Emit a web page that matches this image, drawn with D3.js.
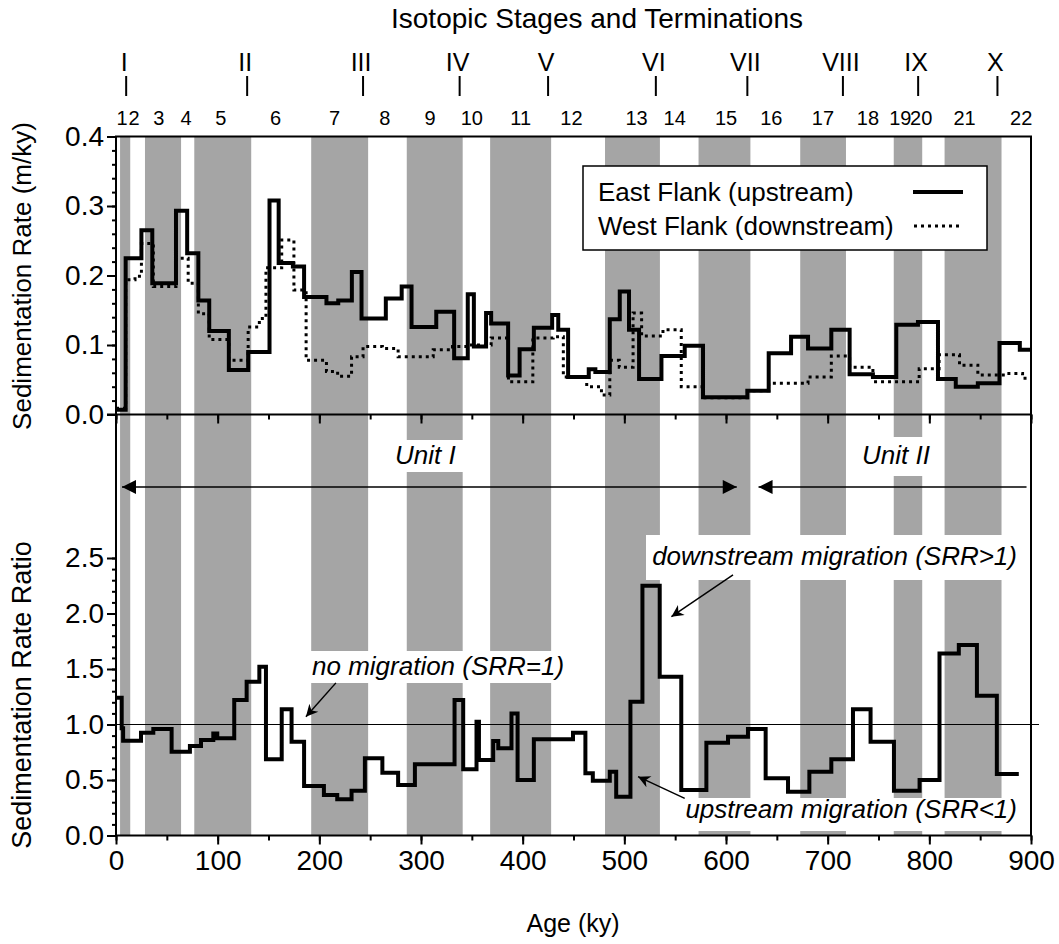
<!DOCTYPE html>
<html>
<head>
<meta charset="utf-8" />
<title>Sedimentation Rate</title>
<script src="https://d3js.org/d3.v7.min.js"></script>
<style>
  body { margin: 0px; background: white; }
  text { font-family: "Liberation Sans", Arial, Helvetica, sans-serif; fill: black; }
  .it { font-style: italic; }
</style>
</head>
<body>
<svg id="chart"></svg>
<script>

var width = 1059;
var height = 944;

// shaded (odd) isotopic stages, ky
var bandStart = [4, 28.5, 77, 192, 286, 368, 481, 573, 673, 765, 815];
var bandEnd   = [14, 64, 133, 248, 341, 428, 535, 624, 718, 793, 871];

// stage numbers and where they sit (ky)
var stageNames = ["1","2","3","4","5","6","7","8","9","10","11","12","13","14","15","16","17","18","19","20","21","22"];
var stageAges  = [5.9, 17.7, 42, 69, 103, 157, 215, 264.5, 309, 350, 398, 448, 512, 549.5, 600, 644.6, 695.4, 739.6, 771.5, 792, 834.6, 890.4];

// terminations
var termNames = ["I","II","III","IV","V","VI","VII","VIII","IX","X"];
var termAges  = [10, 129, 243, 338, 425, 531, 621, 715, 789, 867];

// East Flank (upstream) - step starts (ky) and rates (m/ky)
var eastAge = [0, 9.5, 25, 35.7, 59, 70, 81, 91.7, 111, 130, 151, 160, 174, 185, 207, 218.6, 232, 241.5, 265.4, 281, 290.7,
  315, 332.6, 346, 352, 364, 369, 385.7, 397, 411, 429, 435, 444.7, 465, 471.5, 485.7, 495.5, 504.6, 514.5, 536.5, 559.4,
  577.4, 621, 642, 664, 680.7, 703.6, 721.6, 744.5, 767.5, 788.8, 808.5, 826, 847.7, 869, 889, 900];
var eastRate = [0.007, 0.225, 0.265, 0.189, 0.293, 0.232, 0.164, 0.12, 0.064, 0.09, 0.308, 0.218, 0.213, 0.169, 0.16, 0.164, 0.205, 0.138, 0.167, 0.184, 0.126,
  0.148, 0.081, 0.173, 0.098, 0.146, 0.131, 0.056, 0.094, 0.125, 0.143, 0.122, 0.054, 0.065, 0.061, 0.137, 0.177, 0.122, 0.051, 0.084, 0.099,
  0.025, 0.034, 0.088, 0.112, 0.095, 0.122, 0.058, 0.054, 0.129, 0.133, 0.051, 0.040, 0.045, 0.103, 0.093, 0.093];

// West Flank (downstream)
var westAge = [0, 9.5, 18.7, 25, 36.7, 59, 71, 81, 91.7, 111, 130, 141, 147.5, 163, 175, 187, 207, 218, 231.7, 243, 262, 277.5,
  294, 312, 331, 348, 369, 386, 410, 430, 440, 463, 477.5, 485.7, 495, 508.6, 517, 538, 556, 577.4, 621, 642, 680.7, 703.6,
  721.6, 744.5, 790, 809.6, 829.7, 847.7, 875.6, 891.7, 900];
var westRate = [0.009, 0.194, 0.199, 0.246, 0.184, 0.225, 0.189, 0.145, 0.108, 0.078, 0.126, 0.138, 0.211, 0.251, 0.179, 0.078, 0.062, 0.055, 0.083, 0.098, 0.095, 0.083,
  0.083, 0.093, 0.098, 0.100, 0.110, 0.047, 0.110, 0.112, 0.054, 0.040, 0.028, 0.078, 0.068, 0.146, 0.113, 0.122, 0.040, 0.024, 0.034, 0.045, 0.054, 0.084,
  0.068, 0.047, 0.066, 0.086, 0.071, 0.057, 0.059, 0.052, 0.052];

// Sedimentation rate ratio (west / east)
var srrAge = [0, 5.6, 7, 24.6, 36.7, 54.7, 72.7, 83.6, 95.7, 99.6, 116.3, 128.5, 141, 147.5, 163, 172.7, 185, 204.5, 217.6, 231.7,
  244.8, 262, 277.5, 294, 333, 341.5, 354.6, 357, 371, 376, 389, 395, 411, 449.5, 461.7, 469, 485.7, 492, 506, 517.8, 534.8,
  556, 580.7, 602, 621.6, 639, 661, 682, 703.6, 724.9, 742.2, 765.2, 790.4, 810, 829, 846.8, 866.4, 888];
var srrValue = [1.24, 0.966, 0.854, 0.926, 0.959, 0.755, 0.806, 0.86, 0.92, 0.876, 1.22, 1.386, 1.52, 0.686, 1.137, 0.845, 0.446, 0.365, 0.326, 0.404,
  0.695, 0.566, 0.455, 0.641, 1.22, 0.596, 1.025, 0.68, 0.851, 0.785, 1.10, 0.50, 0.867, 0.926, 0.56, 0.494, 0.575, 0.35, 1.205, 2.25, 1.43,
  0.41, 0.836, 0.89, 0.959, 0.515, 0.395, 0.575, 0.686, 1.137, 0.845, 0.404, 0.50, 1.64, 1.716, 1.26, 0.554, 0.554];

var xTicks = [0, 100, 200, 300, 400, 500, 600, 700, 800, 900];
var topTicks = [0.0, 0.1, 0.2, 0.3, 0.4];
var botTicks = [0.0, 0.5, 1.0, 1.5, 2.0, 2.5];

var svg = d3.select("#chart").attr("width", width).attr("height", height);

var x = d3.scaleLinear().domain([0, 900]).range([116, 1031]);
var yTop = d3.scaleLinear().domain([0, 0.4]).range([414.5, 136.5]);
var yBot = d3.scaleLinear().domain([0, 2.5]).range([835.5, 558]);

var frameTop = 136.5, frameBottom = 835.5, mid = 414.5;
var grey = "#a5a5a5";
var tickFont = 28;

// bands
svg.append("g").selectAll("rect")
  .data(bandStart)
  .enter().append("rect")
  .attr("x", function(d) { return x(d); })
  .attr("width", function(d, i) { return x(bandEnd[i]) - x(d); })
  .attr("y", frameTop)
  .attr("height", frameBottom - frameTop)
  .attr("fill", grey);

// white boxes behind annotation text
var boxes = [
  [390, 440, 73, 32],    // Unit I
  [858, 437, 74, 39],    // Unit II
  [305, 651, 255, 32],   // no migration
  [646, 535, 384, 45],   // downstream
  [680, 798, 350, 33]    // upstream
];
svg.append("g").selectAll("rect")
  .data(boxes)
  .enter().append("rect")
  .attr("x", function(d) { return d[0]; })
  .attr("y", function(d) { return d[1]; })
  .attr("width", function(d) { return d[2]; })
  .attr("height", function(d) { return d[3]; })
  .attr("fill", "white");

// reference line SRR = 1
svg.append("line")
  .attr("x1", x(0)).attr("x2", 1039)
  .attr("y1", yBot(1)).attr("y2", yBot(1))
  .attr("stroke", "black").attr("stroke-width", 1.2);

// axes
function drawY(scale, major, minorStep, x0) {
  var g = svg.append("g").attr("transform", "translate(" + x0 + ",0)");
  var lo = scale.domain()[0], hi = scale.domain()[1];
  var minors = d3.range(lo, hi + minorStep / 2, minorStep);
  g.call(d3.axisLeft(scale).tickValues(minors).tickSize(4).tickFormat(""));
  g.select(".domain").remove();
  var g2 = svg.append("g").attr("transform", "translate(" + x0 + ",0)");
  g2.call(d3.axisLeft(scale).tickValues(major).tickSize(9).tickPadding(3)
    .tickFormat(d3.format(".1f")));
  g2.select(".domain").remove();
  g2.selectAll("text").attr("font-size", tickFont).attr("font-family", "Liberation Sans, Arial, sans-serif");
  svg.selectAll(".tick line").attr("stroke-width", 2);
}
drawY(yTop, topTicks, 0.02, x(0));
drawY(yBot, botTicks, 0.1, x(0));

function drawX(y0, labels) {
  var minor = d3.range(0, 901, 50);
  var g = svg.append("g").attr("transform", "translate(0," + y0 + ")");
  g.call(d3.axisBottom(x).tickValues(minor).tickSize(5).tickFormat(""));
  g.select(".domain").remove();
  var g2 = svg.append("g").attr("transform", "translate(0," + y0 + ")");
  g2.call(d3.axisBottom(x).tickValues(xTicks).tickSize(9).tickPadding(6)
    .tickFormat(labels ? d3.format("d") : ""));
  g2.select(".domain").remove();
  g2.selectAll("text").attr("font-size", tickFont).attr("font-family", "Liberation Sans, Arial, sans-serif");
  svg.selectAll(".tick line").attr("stroke-width", 2);
}
drawX(mid, false);
drawX(frameBottom, true);

// frame and middle axis line
svg.append("rect")
  .attr("x", x(0)).attr("y", frameTop)
  .attr("width", x(900) - x(0)).attr("height", frameBottom - frameTop)
  .attr("fill", "none").attr("stroke", "black").attr("stroke-width", 2);
svg.append("line")
  .attr("x1", 107).attr("x2", x(900))
  .attr("y1", mid).attr("y2", mid)
  .attr("stroke", "black").attr("stroke-width", 2);

// step lines
function stepPts(ages, vals) {
  return ages.map(function(a, i) { return [a, vals[i]]; });
}
var lineTop = d3.line()
  .x(function(d) { return x(d[0]); })
  .y(function(d) { return yTop(d[1]); })
  .curve(d3.curveStepAfter);
var lineBot = d3.line()
  .x(function(d) { return x(d[0]); })
  .y(function(d) { return yBot(d[1]); })
  .curve(d3.curveStepAfter);

svg.append("path")
  .attr("d", lineTop(stepPts(westAge, westRate)))
  .attr("fill", "none").attr("stroke", "black")
  .attr("stroke-width", 3).attr("stroke-dasharray", "3,4");
svg.append("path")
  .attr("d", lineTop(stepPts(eastAge, eastRate)))
  .attr("fill", "none").attr("stroke", "black")
  .attr("stroke-width", 4).attr("stroke-linejoin", "miter");
svg.append("path")
  .attr("d", lineBot(stepPts(srrAge, srrValue)))
  .attr("fill", "none").attr("stroke", "black")
  .attr("stroke-width", 4).attr("stroke-linejoin", "miter");

// legend
var leg = svg.append("g");
leg.append("rect")
  .attr("x", 583).attr("y", 166).attr("width", 404).attr("height", 84)
  .attr("fill", "white").attr("stroke", "black").attr("stroke-width", 1.5);
leg.append("text").attr("x", 598).attr("y", 201).attr("font-size", 26).text("East Flank (upstream)");
leg.append("text").attr("x", 598).attr("y", 235).attr("font-size", 26).text("West Flank (downstream)");
leg.append("line").attr("x1", 913).attr("x2", 963).attr("y1", 192).attr("y2", 192)
  .attr("stroke", "black").attr("stroke-width", 4);
leg.append("line").attr("x1", 914).attr("x2", 963).attr("y1", 226).attr("y2", 226)
  .attr("stroke", "black").attr("stroke-width", 3).attr("stroke-dasharray", "3,4");

// top labels
svg.append("text").attr("x", 597).attr("y", 28).attr("text-anchor", "middle")
  .attr("font-size", 28).text("Isotopic Stages and Terminations");

svg.append("g").selectAll("text")
  .data(stageNames)
  .enter().append("text")
  .attr("x", function(d, i) { return x(stageAges[i]); })
  .attr("y", 125)
  .attr("text-anchor", "middle")
  .attr("font-size", 20)
  .text(function(d) { return d; });

var term = svg.append("g").selectAll("g")
  .data(termNames)
  .enter().append("g");
term.append("text")
  .attr("x", function(d, i) { return x(termAges[i]) - 2; })
  .attr("y", 71)
  .attr("text-anchor", "middle")
  .attr("font-size", 25)
  .text(function(d) { return d; });
term.append("line")
  .attr("x1", function(d, i) { return x(termAges[i]); })
  .attr("x2", function(d, i) { return x(termAges[i]); })
  .attr("y1", 76).attr("y2", 96)
  .attr("stroke", "black").attr("stroke-width", 2);

// axis titles
svg.append("text").attr("x", 573).attr("y", 932).attr("text-anchor", "middle")
  .attr("font-size", 25).text("Age (ky)");
svg.append("text").attr("transform", "translate(31,276) rotate(-90)")
  .attr("text-anchor", "middle").attr("font-size", 26).text("Sedimentation Rate (m/ky)");
svg.append("text").attr("transform", "translate(31,695) rotate(-90)")
  .attr("text-anchor", "middle").attr("font-size", 27).text("Sedimentation Rate Ratio");

// arrows
var defs = svg.append("defs");
defs.append("marker")
  .attr("id", "head").attr("viewBox", "0 0 10 10")
  .attr("refX", 10).attr("refY", 5)
  .attr("markerWidth", 20).attr("markerHeight", 14)
  .attr("markerUnits", "userSpaceOnUse")
  .attr("orient", "auto-start-reverse")
  .append("path").attr("d", "M0,0 L10,5 L0,10 Z").attr("fill", "black");
defs.append("marker")
  .attr("id", "headS").attr("viewBox", "0 0 10 10")
  .attr("refX", 10).attr("refY", 5)
  .attr("markerWidth", 20).attr("markerHeight", 12)
  .attr("markerUnits", "userSpaceOnUse")
  .attr("orient", "auto")
  .append("path").attr("d", "M0,0 L10,5 L0,10 L3,5 Z").attr("fill", "black");

var unitY = yBot(3.14);
svg.append("line")
  .attr("x1", x(5.9)).attr("x2", x(610.6)).attr("y1", unitY).attr("y2", unitY)
  .attr("stroke", "black").attr("stroke-width", 1.5)
  .attr("marker-start", "url(#head)").attr("marker-end", "url(#head)");
svg.append("line")
  .attr("x1", x(895.6)).attr("x2", x(632)).attr("y1", unitY).attr("y2", unitY)
  .attr("stroke", "black").attr("stroke-width", 1.5)
  .attr("marker-end", "url(#head)");

var callouts = [
  [216.3, 1.375, 186.8, 1.07],
  [606.9, 2.347, 546.3, 1.971],
  [559.4, 0.335, 513.5, 0.53]
];
svg.append("g").selectAll("line")
  .data(callouts)
  .enter().append("line")
  .attr("x1", function(d) { return x(d[0]); })
  .attr("y1", function(d) { return yBot(d[1]); })
  .attr("x2", function(d) { return x(d[2]); })
  .attr("y2", function(d) { return yBot(d[3]); })
  .attr("stroke", "black").attr("stroke-width", 1.5)
  .attr("marker-end", "url(#headS)");

svg.append("text").attr("class", "it").attr("x", 395).attr("y", 464)
  .attr("font-size", 26).text("Unit I");
svg.append("text").attr("class", "it").attr("x", 862).attr("y", 464)
  .attr("font-size", 26).text("Unit II");
svg.append("text").attr("class", "it").attr("x", 312).attr("y", 675)
  .attr("font-size", 26).text("no migration (SRR=1)");
svg.append("text").attr("class", "it").attr("x", 1017).attr("y", 565)
  .attr("text-anchor", "end").attr("font-size", 26).text("downstream migration (SRR>1)");
svg.append("text").attr("class", "it").attr("x", 1017).attr("y", 818)
  .attr("text-anchor", "end").attr("font-size", 26).text("upstream migration (SRR<1)");

</script>
</body>
</html>
